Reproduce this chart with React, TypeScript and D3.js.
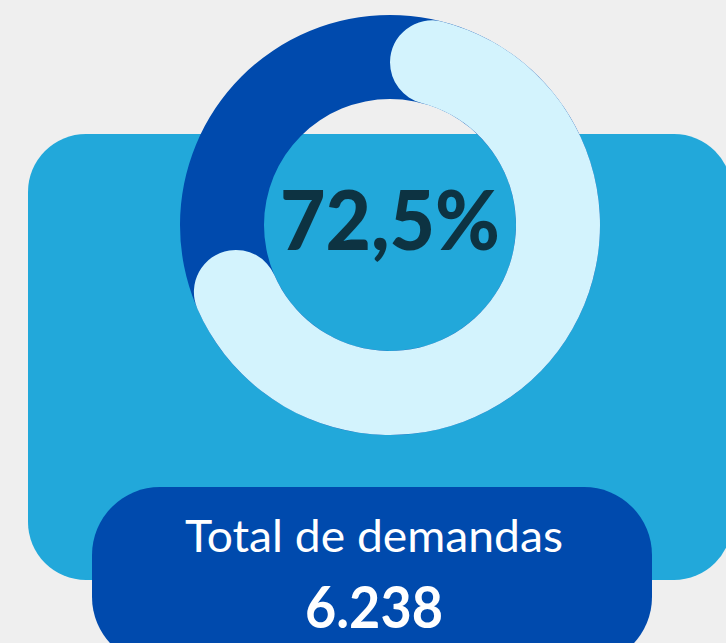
import React from "react";
import * as d3 from "d3";

const percentValues = [72.5];
const remainderValues = [27.5];
const centerLabels = ["72,5%"];
const totalTitles = ["Total de demandas"];
const totalValues = ["6.238"];

const W = 726;
const H = 643;

export default function App() {
  const cx = 390;
  const cy = 225;
  const outerR = 210;
  const innerR = 126;

  const pct = percentValues[0];
  const angleScale = d3.scaleLinear().domain([0, 100]).range([0, 2 * Math.PI]);

  const ringArc = d3.arc<any>().innerRadius(innerR).outerRadius(outerR);
  const fullRing = ringArc({ startAngle: 0, endAngle: 2 * Math.PI } as any) || "";
  const valueArc =
    d3
      .arc<any>()
      .innerRadius(innerR)
      .outerRadius(outerR)
      .cornerRadius((outerR - innerR) / 2)({
      startAngle: angleScale(0),
      endAngle: angleScale(pct),
    } as any) || "";
  void remainderValues;

  return (
    <svg
      width={W}
      height={H}
      style={{ position: "absolute", left: 0, top: 0, display: "block" }}
    >
      <rect x={0} y={0} width={W} height={H} fill="#efefef" />
      <rect x={28} y={134} width={704} height={446} rx={58} ry={58} fill="#22a8da" />
      <g transform={`translate(${cx},${cy})`}>
        <path d={fullRing} fill="#004aad" />
        <path d={valueArc} fill="#d3f3fd" />
      </g>
      <text
        x={390}
        y={250}
        textAnchor="middle"
        fontFamily="Lato, 'Open Sans', sans-serif"
        fontWeight={900}
        fontSize={81}
        fill="#0d3342"
        textLength={220}
        lengthAdjust="spacingAndGlyphs"
      >
        {centerLabels[0]}
      </text>
      <rect x={92} y={487} width={560} height={178} rx={68} ry={68} fill="#004aad" />
      <text
        x={374}
        y={552}
        textAnchor="middle"
        fontFamily="Lato, 'Open Sans', sans-serif"
        fontWeight={400}
        fontSize={44}
        fill="#ffffff"
        textLength={378}
        lengthAdjust="spacingAndGlyphs"
      >
        {totalTitles[0]}
      </text>
      <text
        x={374}
        y={628}
        textAnchor="middle"
        fontFamily="Lato, 'Open Sans', sans-serif"
        fontWeight={700}
        fontSize={57}
        fill="#ffffff"
        textLength={138}
        lengthAdjust="spacingAndGlyphs"
      >
        {totalValues[0]}
      </text>
    </svg>
  );
}
